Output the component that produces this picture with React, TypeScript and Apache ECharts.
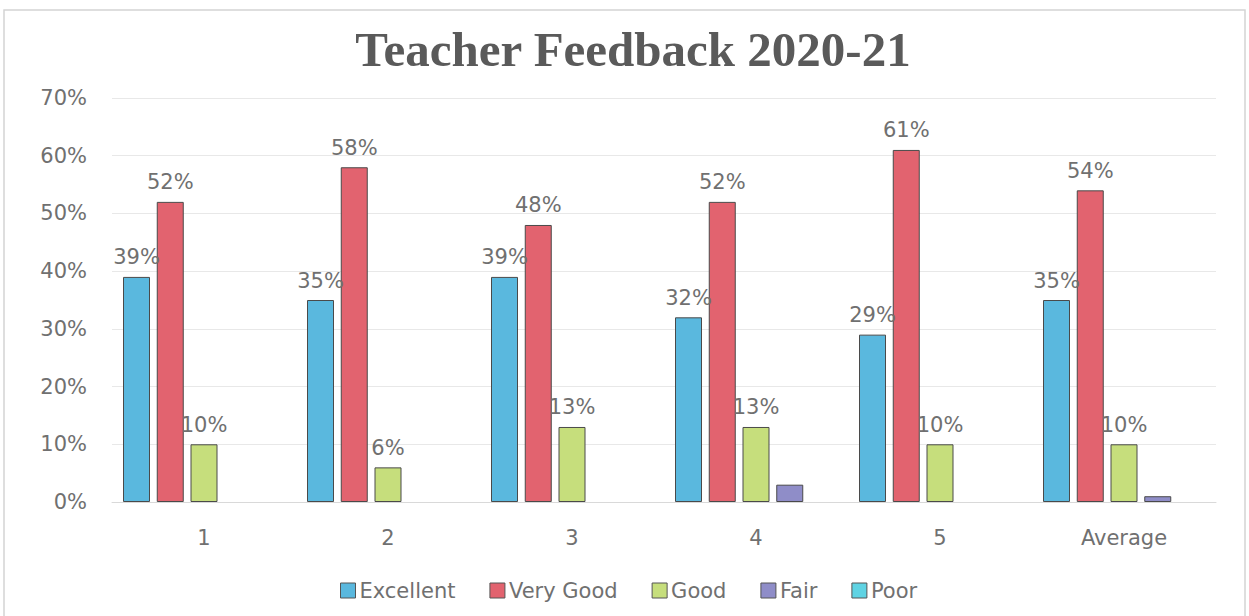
import React, { useEffect, useRef } from "react";
import * as echarts from "echarts";

const categories = ["1", "2", "3", "4", "5", "Average"];
const seriesNames = ["Excellent", "Very Good", "Good", "Fair", "Poor"];
const excellent = [39, 35, 39, 32, 29, 35];
const veryGood = [52, 58, 48, 52, 61, 54];
const good = [10, 6, 13, 13, 10, 10];
const fair = [0, 0, 0, 3, 0, 1];
const poor = [0, 0, 0, 0, 0, 0];
const colors = ["#5ab8de", "#e2636f", "#c6de7c", "#8f8dc8", "#5fd3e3"];
const showLabel = [true, true, true, false, false];

export default function App() {
  const ref = useRef<HTMLDivElement>(null);
  useEffect(() => {
    document.body.style.margin = "0";
    const chart = echarts.init(ref.current!, null, { renderer: "svg" });
    const values = [excellent, veryGood, good, fair, poor];
    const font = "'DejaVu Sans', sans-serif";
    const textColor = "#707070";
    chart.setOption({
      animation: false,
      backgroundColor: "#ffffff",
      graphic: [
        {
          type: "rect",
          shape: { x: 4, y: 10, width: 1241, height: 610 },
          style: { fill: "none", stroke: "#d4d4d4", lineWidth: 1.5 },
          silent: true,
        },
      ],
      title: {
        text: "Teacher Feedback 2020-21",
        left: 628,
        textAlign: "center",
        top: 20,
        textStyle: {
          fontFamily: "'Liberation Serif', 'DejaVu Serif', serif",
          fontWeight: "bold",
          fontSize: 49,
          color: "#5a5a5a",
        },
      },
      legend: {
        left: 335,
        top: 575,
        itemWidth: 15,
        itemHeight: 15,
        itemGap: 34,
        icon: "rect",
        textStyle: { fontFamily: font, fontSize: 21, color: textColor, padding: [0, 0, 0, -1] },
        data: seriesNames.map((n, i) => ({
          name: n,
          itemStyle: { color: colors[i], borderColor: "#555555", borderWidth: 1 },
        })),
      },
      grid: { left: 112, right: 33, top: 98, bottom: 114 },
      xAxis: {
        type: "category",
        data: categories,
        axisTick: { show: false },
        axisLine: { lineStyle: { color: "#d9d9d9" } },
        axisLabel: { fontFamily: font, fontSize: 21, color: textColor, margin: 25 },
      },
      yAxis: {
        type: "value",
        min: 0,
        max: 70,
        interval: 10,
        axisLine: { show: false },
        axisTick: { show: false },
        splitLine: { lineStyle: { color: "#e8e8e8" } },
        axisLabel: {
          fontFamily: font,
          fontSize: 21,
          color: textColor,
          margin: 25,
          formatter: "{value}%",
        },
      },
      series: seriesNames.map((name, i) => ({
        name,
        type: "bar",
        data: values[i].map((v) => (v === 0 ? null : v)),
        barWidth: 27,
        barGap: "25%",
        itemStyle: { color: colors[i], borderColor: "#4a4a4a", borderWidth: 1 },
        label: {
          show: showLabel[i],
          position: "top",
          distance: 9,
          formatter: "{c}%",
          fontFamily: font,
          fontSize: 21,
          color: textColor,
        },
      })),
    });
    return () => chart.dispose();
  }, []);
  return <div ref={ref} style={{ width: 1249, height: 616 }} />;
}
